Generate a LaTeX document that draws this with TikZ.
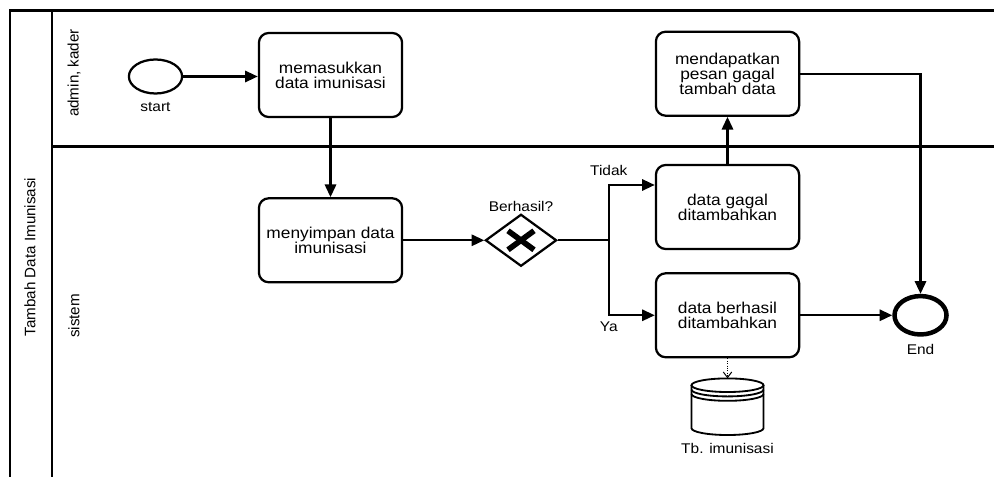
\documentclass[tikz,border=0pt]{standalone}
\usepackage{fontspec}
\setmainfont{Liberation Sans}
\newfontfamily\widefont[FakeStretch=1.1]{Liberation Sans}
\usetikzlibrary{shapes.geometric, arrows.meta, positioning, calc}

\begin{document}
\begin{tikzpicture}[
		x=0.025cm, y=-0.025cm,
		%--- Node Styles ---------------------------------------------------
		task/.style={
			rectangle,
			rounded corners=7pt,
			draw=black,
			line width=1.6pt,
			minimum width=3.58cm,
			minimum height=2.1cm,
			align=center,
			font=\widefont\fontsize{11.2}{10.8}\selectfont
		},
		startev/.style={
			ellipse,
			draw=black,
			line width=1.6pt,
			minimum width=1.33cm,
			minimum height=0.85cm,
			inner sep=0pt
		},
		endev/.style={
			ellipse,
			draw=black,
			line width=3.2pt,
			minimum width=1.3cm,
			minimum height=0.96cm,
			inner sep=0pt
		},
		gateway/.style={
			diamond,
			draw=black,
			line width=1.6pt,
			minimum width=1.78cm,
			minimum height=1.3cm,
			inner sep=0pt
		},
		%--- Label Styles --------------------------------------------------
		lbl/.style={
			font=\widefont\fontsize{10}{11}\selectfont,
			inner sep=1pt
		},
		lane/.style={
			rotate=90,
			font=\fontsize{10.8}{12}\selectfont
		},
		%--- Arrow Styles --------------------------------------------------
		flow/.style={
			-{Triangle[length=9pt,width=8pt]},
			line width=1.6pt
		},
		assoc/.style={
			-{Straight Barb[length=4pt,width=6pt]},
			line width=0.7pt,
			densely dotted
		},
		pool/.style={
			line width=1.7pt
		}
		]
		
		\useasboundingbox (0,0) rectangle (994,477);
		
		%--- Pool and Lanes ----------------------------------------------------
		
		\draw[pool] (10,477) -- (10,10.5) -- (994,10.5);
		\draw[pool] (52,10.5) -- (52,477);
		\draw[pool] (52,146.5) -- (994,146.5);
		
		\node[lane] (poollbl) at (30,257) {Tambah Data Imunisasi};
		\node[lane] (admin)   at (74,73)  {admin, kader};
		\node[lane] (sistem)  at (74,316) {sistem};
		
		%--- Events and Tasks --------------------------------------------------
		
		\node[startev] (start) at (155.5,76.5) {};
		\node[lbl, below=0.14cm of start] (startlbl) {start};
		
		\node[task] (masuk) at (330.5,75)
		{memasukkan\\data imunisasi};
		
		\node[task, below=1.975cm of masuk] (simpan)
		{menyimpan data\\imunisasi};
		
		\node[gateway, right=2.025cm of simpan] (gw) {};
		\node[lbl, above=0pt of gw] (gwlbl) {Berhasil?};
		\coordinate[right=1.275cm of gw] (split);
		
		\node[task] (gagal) at (727.5,207)
		{data gagal\\ditambahkan};
		
		\node[task, above=1.175cm of gagal] (pesan)
		{mendapatkan\\pesan gagal\\tambah data};
		
		\node[task, below=0.55cm of gagal] (berhasil)
		{data berhasil\\ditambahkan};
		
		\node[endev, right=2.3cm of berhasil] (end) {};
		\node[lbl, below=0.15cm of end] (endlbl) {End};
		
		%--- Data Store --------------------------------------------------------
		
		\coordinate[below=0.5cm of berhasil] (tbtop);
		\coordinate[below=0.17cm of tbtop] (tb);
		
		\draw[line width=1.3pt] (tb) ellipse [x radius=0.9cm, y radius=0.17cm];
		\draw[line width=1.3pt] ([xshift=-0.9cm]tb) -- ++(0,43)
		arc[start angle=180, end angle=360, x radius=0.9cm, y radius=0.17cm]
		-- ++(0,-43);
		\draw[line width=1.3pt] ([xshift=-0.9cm, yshift=-0.11cm]tb)
		arc[start angle=180, end angle=360, x radius=0.9cm, y radius=0.17cm];
		\draw[line width=1.3pt] ([xshift=-0.9cm, yshift=-0.22cm]tb)
		arc[start angle=180, end angle=360, x radius=0.9cm, y radius=0.17cm];
		
		\node[lbl, below=1.42cm of tb] (tblbl) {Tb. imunisasi};
		
		%--- Gateway X ---------------------------------------------------------
		
		\draw[line width=4pt] ($(gw)+(-13,-9.5)$) -- ($(gw)+(13,9.5)$);
		\draw[line width=4pt] ($(gw)+(-13,9.5)$) -- ($(gw)+(13,-9.5)$);
		
		%--- Sequence Flows ----------------------------------------------------
		
		\draw[flow] (start.east) -- (start.east -| masuk.west);
		\draw[flow] (masuk) -- (simpan);
		\draw[flow] (simpan) -- (gw);
		\draw[line width=1.6pt] (gw) -- (split);
		
		\draw[flow] (split) |- node[lbl, pos=0.5, above=5pt] (tidak) {Tidak}
		([yshift=0.55cm]gagal.west);
		\draw[flow] (split) |- node[lbl, pos=0.5, below=3pt] (ya) {Ya}
		(berhasil.west);
		
		\draw[flow] (gagal) -- (pesan);
		\draw[flow] (pesan.east) -| (end.north);
		\draw[flow] (berhasil) -- (end);
		
		%--- Data Association --------------------------------------------------
		
		\draw[assoc] (berhasil) -- (tbtop);
		
	\end{tikzpicture}
\end{document}
